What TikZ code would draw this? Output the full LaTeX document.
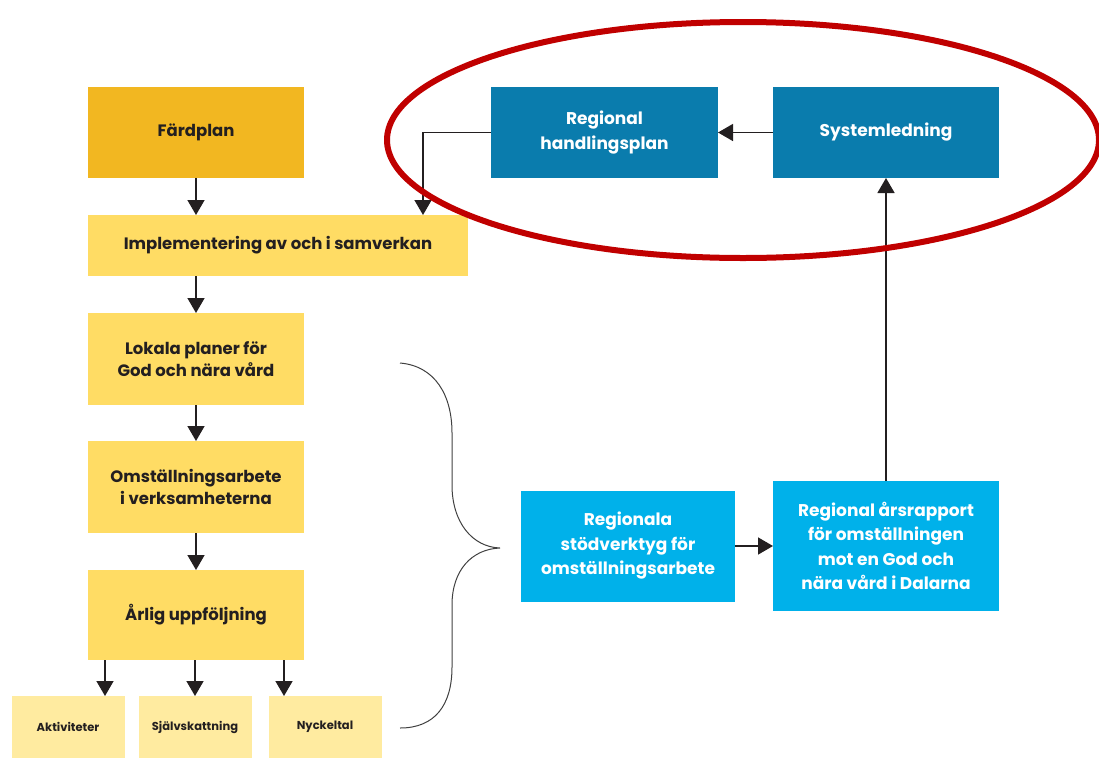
\documentclass[tikz,border=0pt]{standalone}
\usepackage{fontspec}
\setmainfont{Poppins}
\usepackage{tikz}
\usetikzlibrary{calc,arrows.meta}

\definecolor{guld}{HTML}{F2B721}
\definecolor{gul}{HTML}{FFDC64}
\definecolor{ljusgul}{HTML}{FFEBA0}
\definecolor{morkbla}{HTML}{0A7CAD}
\definecolor{ljusbla}{HTML}{00B1EA}
\definecolor{ringrod}{HTML}{C00000}
\definecolor{pil}{HTML}{231F20}

\tikzset{
	ruta/.style={inner sep=0pt, outer sep=0pt, align=center, font=\bfseries\fontsize{16.5}{22}\selectfont, text=pil},
	liten/.style={ruta, fill=ljusgul, minimum width=113pt, minimum height=62pt, font=\bfseries\fontsize{11.5}{14}\selectfont},
	blaruta/.style={ruta, text=white, font=\bfseries\fontsize{17}{24.5}\selectfont},
	pilen/.style={line width=1.5pt, draw=pil, -{Triangle[width=17pt,length=15pt]}}
}

\begin{document}
\begin{tikzpicture}[x=1pt,y=-1pt]
		%%%%% START %%%%%
		\useasboundingbox (0,0) rectangle (1099,758);
		
		% vänster kolumn
		\node[ruta, fill=guld, minimum width=216pt, minimum height=91pt] (fardplan) at (196,132.5) {Färdplan};
		\node[ruta, fill=gul, minimum width=380pt, minimum height=61pt] (impl) at (278,245.5) {Implementering av och i samverkan};
		\node[ruta, fill=gul, minimum width=216pt, minimum height=92pt] (lokala) at (196,359) {Lokala planer för\\God och nära vård};
		\node[ruta, fill=gul, minimum width=216pt, minimum height=92pt] (omst) at (196,487) {Omställningsarbete\\i verksamheterna};
		\node[ruta, fill=gul, minimum width=216pt, minimum height=90pt] (arlig) at (196,615) {Årlig uppföljning};
		
		\node[liten] (aktiv) at (68,727) {Aktiviteter};
		\node[liten] (sjalv) at (195,727) {Självskattning};
		\node[liten] (nyckel) at (325,727) {Nyckeltal};
		
		% höger del
		\node[blaruta, fill=morkbla, minimum width=227pt, minimum height=91pt] (handl) at (604.5,132.5) {Regional\\handlingsplan};
		\node[blaruta, fill=morkbla, minimum width=226pt, minimum height=91pt] (system) at (886,132.5) {Systemledning};
		\node[blaruta, fill=ljusbla, minimum width=214pt, minimum height=111pt] (stod) at (628,546) {Regionala\\stödverktyg för\\omställningsarbete};
		\node[blaruta, fill=ljusbla, minimum width=226pt, minimum height=130pt] (rapport) at (886,546) {Regional årsrapport\\för omställningen\\mot en God och\\nära vård i Dalarna};
		
		% pilar
		\draw[pilen] (fardplan.south) -- (fardplan.south |- impl.north);
		\draw[pilen] (lokala.north |- impl.south) -- (lokala.north);
		\draw[pilen] (lokala) -- (omst);
		\draw[pilen] (omst) -- (arlig);
		
		\coordinate (a1) at ($(arlig.south west)+(17,0)$);
		\coordinate (a3) at ($(arlig.south west)+(196,0)$);
		\draw[pilen] (a1) -- (a1 |- aktiv.north);
		\draw[pilen] (arlig.south -| sjalv.north) -- (sjalv.north);
		\draw[pilen] (a3) -- (a3 |- nyckel.north);
		
		\coordinate (hp) at ($(impl.north east)+(-45,0)$);
		\draw[pilen] (handl.west) -| (hp);
		\draw[pilen] (system) -- (handl);
		\draw[pilen] (rapport) -- (system);
		\draw[pilen] (stod) -- (rapport);
		
		% klammer
		\draw[line width=1pt, color=black!75] (400,363) .. controls (435,366) and (452,395) .. (452,433)
			-- (452,485) .. controls (452,522) and (472,547) .. (500,548)
			.. controls (472,549) and (452,570) .. (452,605)
			-- (452,667) .. controls (452,705) and (435,728) .. (400,728);
		
		% röd ring
		\draw[line width=6pt, color=ringrod] (743,140) ellipse (356 and 118);
		%%%%% END %%%%%
	\end{tikzpicture}
\end{document}
